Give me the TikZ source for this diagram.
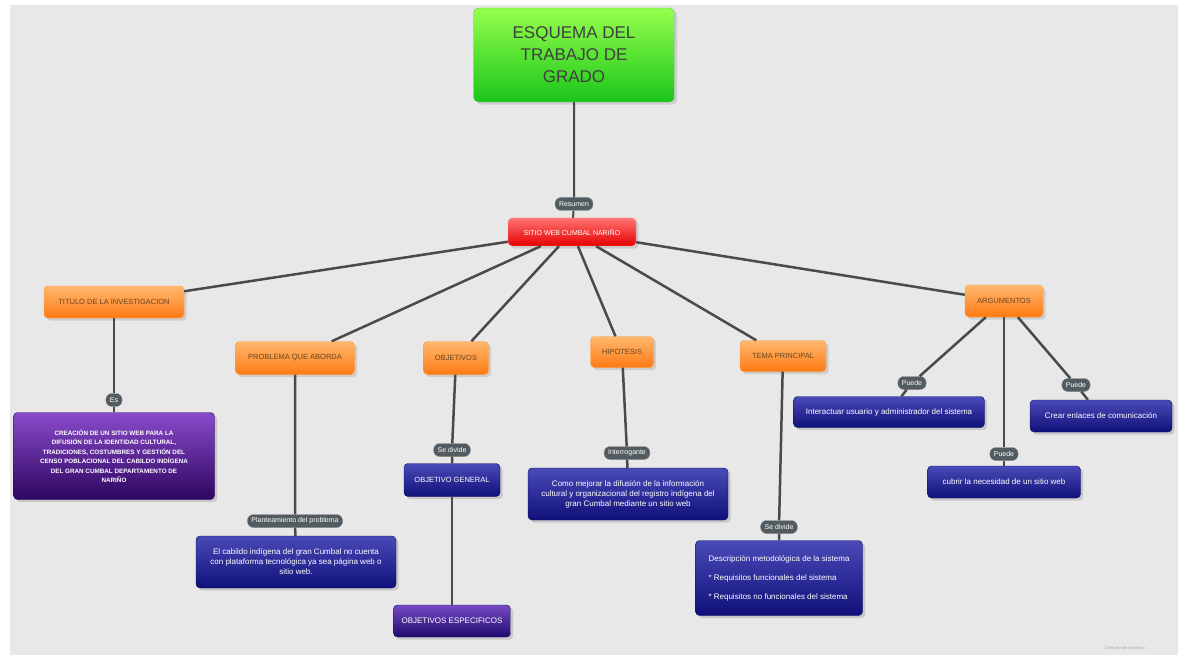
\documentclass[tikz,border=0pt]{standalone}
\usepackage{fontspec}
\setmainfont{Liberation Sans}
\usetikzlibrary{shadows}
\definecolor{fondo}{HTML}{E8E8E8}
\definecolor{linea}{HTML}{4A4A4A}
\definecolor{pildora}{HTML}{525B5F}
\definecolor{naranjaA}{HTML}{FFB870}
\definecolor{naranjaB}{HTML}{FF7A12}
\definecolor{azulA}{HTML}{4A4AB8}
\definecolor{azulB}{HTML}{10107A}
\definecolor{moradoA}{HTML}{8A4ACB}
\definecolor{moradoB}{HTML}{2E0660}
\begin{document}
\begin{tikzpicture}[x=1pt,y=-1pt,
  rama/.style={linea,line width=2.5pt},
  esquema/.style={rounded corners=5pt,top color=green!45!lime!70,bottom color=green!75!black!90,
    draw=green!60!black!60,align=center,text=black!75,font=\fontsize{17}{22}\selectfont,
    drop shadow={opacity=.25}},
  central/.style={rounded corners=4pt,top color=red!55,bottom color=red!90!black,draw=red!40,
    text=white,font=\fontsize{7}{8}\selectfont,drop shadow={opacity=.25}},
  tema/.style={rounded corners=4pt,top color=naranjaA,bottom color=naranjaB,draw=orange!80,
    text=brown!55!black,font=\fontsize{7.5}{8}\selectfont,drop shadow={opacity=.25}},
  hoja/.style={rounded corners=4pt,top color=azulA,bottom color=azulB,draw=azulB!80!black,
    text=white,align=center,font=\fontsize{8}{10}\selectfont,drop shadow={opacity=.3}},
  hojamorada/.style={hoja,top color=moradoA,bottom color=moradoB,draw=moradoB},
  enlace/.style={rounded corners=6pt,fill=pildora,draw=pildora!70,text=white,inner xsep=4pt,
    inner ysep=2pt,minimum height=13pt,font=\fontsize{7}{8}\selectfont}
]
% fondo
\fill[white] (0,0) rectangle (1182,660);
\fill[fondo] (10,5) rectangle (1178,655);

% nodos principales
\node[esquema,minimum width=201pt,minimum height=94pt] (titulo) at (574,55) {ESQUEMA DEL\\TRABAJO DE\\GRADO};
\node[central,minimum width=128pt,minimum height=28pt] (sitio) at (572,232) {SITIO WEB CUMBAL NARIÑO};
\node[enlace] (resumen) at (574,204) {Resumen};

\node[tema,minimum width=140pt,minimum height=32pt] (titinv) at (114,302) {TITULO DE LA INVESTIGACION};
\node[tema,minimum width=119pt,minimum height=33pt] (problema) at (295,358) {PROBLEMA QUE ABORDA};
\node[tema,minimum width=65pt,minimum height=33pt] (objetivos) at (456,358) {OBJETIVOS};
\node[tema,minimum width=63pt,minimum height=31pt] (hipotesis) at (622,352) {HIPOTESIS};
\node[tema,minimum width=86pt,minimum height=31pt] (temap) at (783,356) {TEMA PRINCIPAL};
\node[tema,minimum width=78pt,minimum height=32pt] (argumentos) at (1004,301) {ARGUMENTOS};

% hojas
\node[hojamorada,minimum width=201pt,minimum height=87pt,font=\fontsize{6.3}{9.5}\selectfont\bfseries] (creacion) at (114,456)
  {CREACIÓN DE UN SITIO WEB PARA LA\\DIFUSIÓN DE LA IDENTIDAD CULTURAL,\\TRADICIONES, COSTUMBRES Y GESTIÓN DEL\\CENSO POBLACIONAL DEL CABILDO INDÍGENA\\DEL GRAN CUMBAL DEPARTAMENTO DE\\NARIÑO};
\node[hoja,minimum width=200pt,minimum height=52pt] (cabildo) at (296,562)
  {El cabildo indígena del gran Cumbal no cuenta\\con plataforma tecnológica ya sea página web o\\sitio web.};
\node[hoja,minimum width=96pt,minimum height=33pt,font=\fontsize{7.5}{9}\selectfont] (general) at (452,480) {OBJETIVO GENERAL};
\node[hoja,minimum width=117pt,minimum height=32pt,top color=moradoA!70!azulA,bottom color=moradoB!50!azulB] (especificos) at (452,621) {OBJETIVOS ESPECIFICOS};
\node[hoja,minimum width=200pt,minimum height=52pt] (mejorar) at (628,494)
  {Como mejorar la difusión de la información\\cultural y organizacional del registro indígena del\\gran Cumbal mediante un sitio web};
\node[hoja,minimum width=167pt,minimum height=75pt,align=left] (requisitos) at (779,578)
  {Descripción metodológica de la sistema\\[9pt]* Requisitos funcionales del sistema\\[9pt]* Requisitos no funcionales del sistema};
\node[hoja,minimum width=191pt,minimum height=31pt] (interactuar) at (889,412) {Interactuar usuario y administrador del sistema};
\node[hoja,minimum width=153pt,minimum height=32pt] (cubrir) at (1004,482) {cubrir la necesidad de un sitio web};
\node[hoja,minimum width=142pt,minimum height=32pt] (enlaces) at (1101,416) {Crear enlaces de comunicación};

% etiquetas de enlace
\node[enlace] (es) at (114,400) {Es};
\node[enlace] (plant) at (295,521) {Planteamiento del problema};
\node[enlace] (divide) at (452,450) {Se divide};
\node[enlace] (interrog) at (627,453) {Interrogante};
\node[enlace] (divide2) at (779,527) {Se divide};
\node[enlace] (puede1) at (912,383) {Puede};
\node[enlace] (puede2) at (1004,454) {Puede};
\node[enlace] (puede3) at (1076,385) {Puede};

% conectores
\draw[rama,line width=2pt] (titulo) -- (resumen) -- (sitio);
\foreach \t in {titinv,problema,objetivos,hipotesis,temap,argumentos}
  \draw[rama] (sitio) -- (\t);
\draw[rama] (titinv) -- (es) -- (creacion);
\draw[rama] (problema) -- (plant) -- (cabildo);
\draw[rama] (objetivos) -- (divide) -- (general);
\draw[rama,line width=1.5pt] (general) -- (especificos);
\draw[rama] (hipotesis) -- (interrog) -- (mejorar);
\draw[rama] (temap) -- (divide2) -- (requisitos);
\draw[rama] (argumentos) -- (puede1) -- (interactuar);
\draw[rama] (argumentos) -- (puede2) -- (cubrir);
\draw[rama] (argumentos) -- (puede3) -- (enlaces);

\node[text=black!35,font=\fontsize{4}{5}\selectfont] (pie) at (1125,648) {Created with Mindomo};
\end{tikzpicture}
\end{document}
